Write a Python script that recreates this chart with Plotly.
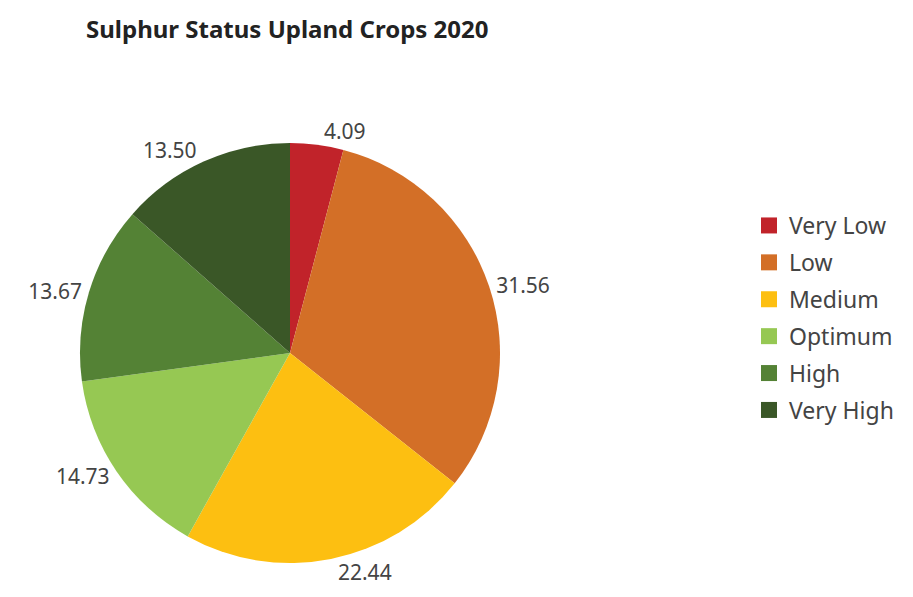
import plotly.graph_objects as go

categories = ['Very Low', 'Low', 'Medium', 'Optimum', 'High', 'Very High']
values = [4.09, 31.56, 22.44, 14.73, 13.67, 13.50]
colors = ['#C1232A', '#D36F27', '#FDBF11', '#96C853', '#548235', '#3A5727']

W, H = 913, 597

fig = go.Figure()
fig.add_trace(go.Pie(
    labels=categories,
    values=values,
    sort=False,
    direction='clockwise',
    rotation=0,
    marker=dict(colors=colors, line=dict(width=0)),
    texttemplate='%{value:.2f}',
    textposition='outside',
    textfont=dict(size=21, color='#444444'),
    hoverinfo='label+value',
    showlegend=False,
    domain=dict(x=[72 / W, 492 / W], y=[1 - 555 / H, 1 - 135 / H]),
))

# legend entries, one group each so the spacing can be set
for cat, col in zip(categories, colors):
    fig.add_trace(go.Scatter(x=[None], y=[None], mode='markers', name=cat,
                             legendgroup=cat, hoverinfo='skip',
                             marker=dict(symbol='square', size=16, color=col)))

fig.update_layout(
    width=W, height=H,
    font=dict(family='Noto Sans, Open Sans, sans-serif', color='#444444'),
    title=dict(text='<b>Sulphur Status Upland Crops 2020</b>',
               x=78 / W, xanchor='left', y=1 - 22 / H, yanchor='middle',
               font=dict(size=24, color='#222222')),
    legend=dict(x=741 / W, xanchor='left', y=1 - 310 / H, yanchor='middle',
                tracegroupgap=4, traceorder='grouped',
                font=dict(size=23, color='#444444')),
    xaxis=dict(visible=False),
    yaxis=dict(visible=False),
    plot_bgcolor='white',
    margin=dict(l=0, r=0, t=0, b=0),
    paper_bgcolor='white',
)

fig.write_html("out.html")
